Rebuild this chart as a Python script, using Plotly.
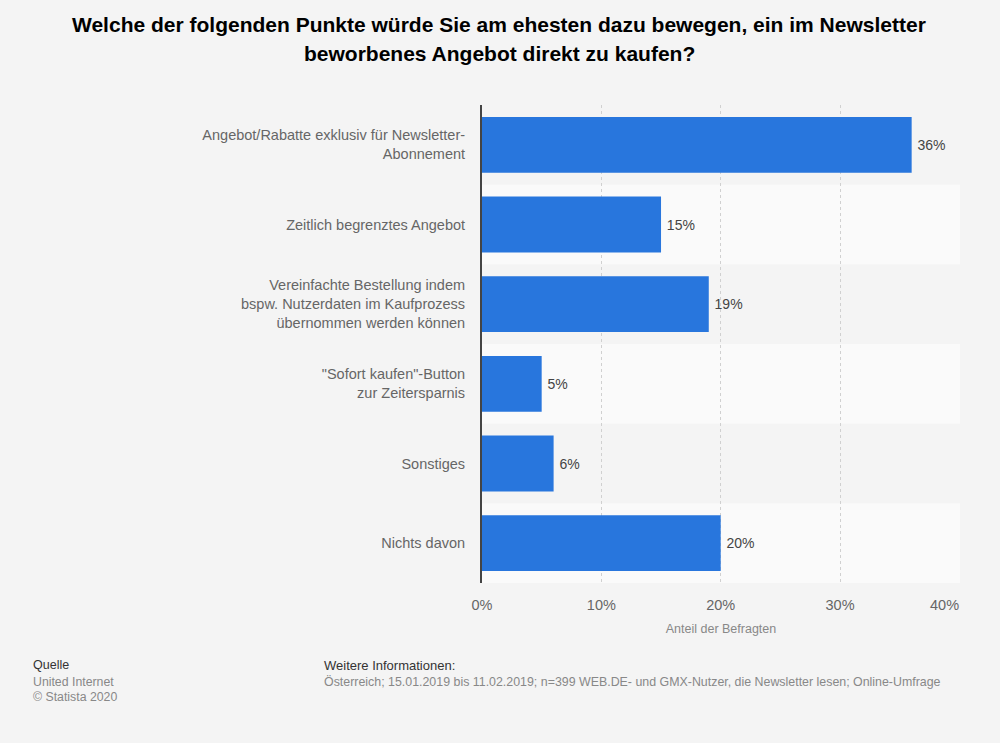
import plotly.graph_objects as go

categories = [
    "Angebot/Rabatte exklusiv für Newsletter-<br>Abonnement",
    "Zeitlich begrenztes Angebot",
    "Vereinfachte Bestellung indem<br>bspw. Nutzerdaten im Kaufprozess<br>übernommen werden können",
    "\"Sofort kaufen\"-Button<br>zur Zeitersparnis",
    "Sonstiges",
    "Nichts davon",
]
values = [36, 15, 19, 5, 6, 20]
value_labels = [f"\u2009{v}%" for v in values]
x_ticks = [0, 10, 20, 30, 40]
x_tick_labels = ["0%", "10%", "20%", "30%", "40%"]

FONT = "Liberation Sans, Arial, sans-serif"
W, H = 1000, 743
L, R, T, B = 482, 40, 105, 160
PW, PH = W - L - R, H - T - B


def px(x):
    return (x - L) / PW


def py(y):
    return (H - B - y) / PH


fig = go.Figure()
fig.add_trace(go.Bar(
    x=values,
    y=categories,
    orientation="h",
    marker=dict(color="#2876dd", line=dict(width=0)),
    width=0.7,
    text=value_labels,
    textposition="outside",
    textfont=dict(family=FONT, size=14, color="#444444"),
    cliponaxis=False,
    hoverinfo="skip",
))

shapes = []
for i in range(len(categories)):
    if i % 2 == 1:
        shapes.append(dict(type="rect", xref="paper", yref="y", x0=0, x1=1,
                           y0=i - 0.5, y1=i + 0.5, fillcolor="#fafafa",
                           line=dict(width=0), layer="below"))

# tick labels: last one is kept inside the plot (right-aligned at its gridline)
shown_ticktext = x_tick_labels[:-1] + [""]

annotations = [
    dict(text="<b>Welche der folgenden Punkte würde Sie am ehesten dazu bewegen, ein im Newsletter</b>",
         x=px(499), y=py(24), xref="paper", yref="paper", showarrow=False,
         xanchor="center", yanchor="middle", font=dict(family=FONT, size=21, color="#000000")),
    dict(text="<b>beworbenes Angebot direkt zu kaufen?</b>",
         x=px(499), y=py(53), xref="paper", yref="paper", showarrow=False,
         xanchor="center", yanchor="middle", font=dict(family=FONT, size=21, color="#000000")),
    dict(text=x_tick_labels[-1], x=x_ticks[-1], y=py(605), xref="x", yref="paper", showarrow=False,
         xanchor="right", yanchor="middle", xshift=2, font=dict(family=FONT, size=14.5, color="#666666")),
    dict(text="Quelle", x=px(31), y=py(665), xref="paper", yref="paper", showarrow=False,
         xanchor="left", yanchor="middle", font=dict(family=FONT, size=12.5, color="#333333")),
    dict(text="United Internet", x=px(31), y=py(682), xref="paper", yref="paper", showarrow=False,
         xanchor="left", yanchor="middle", font=dict(family=FONT, size=12.3, color="#888888")),
    dict(text="© Statista 2020", x=px(31), y=py(697), xref="paper", yref="paper", showarrow=False,
         xanchor="left", yanchor="middle", font=dict(family=FONT, size=12.3, color="#888888")),
    dict(text="Weitere Informationen:", x=px(322), y=py(665), xref="paper", yref="paper", showarrow=False,
         xanchor="left", yanchor="middle", font=dict(family=FONT, size=13, color="#333333")),
    dict(text="Österreich; 15.01.2019 bis 11.02.2019; n=399 WEB.DE- und GMX-Nutzer, die Newsletter lesen; Online-Umfrage",
         x=px(322), y=py(682), xref="paper", yref="paper", showarrow=False,
         xanchor="left", yanchor="middle", font=dict(family=FONT, size=12.4, color="#888888")),
]

fig.update_layout(
    width=W, height=H,
    margin=dict(l=L, r=R, t=T, b=B),
    paper_bgcolor="#f4f4f4",
    plot_bgcolor="#f4f4f4",
    showlegend=False,
    bargap=0.3,
    shapes=shapes,
    annotations=annotations,
    xaxis=dict(
        range=[0, 40.05],
        tickvals=x_ticks,
        ticktext=shown_ticktext,
        tickfont=dict(family=FONT, size=14.5, color="#666666"),
        showgrid=True, gridcolor="#d0d0d0", griddash="dot", gridwidth=1,
        zeroline=False, showline=False, ticks="",
        ticklabelstandoff=11,
        title=dict(text="Anteil der Befragten", font=dict(family=FONT, size=12.5, color="#888888"), standoff=12),
        fixedrange=True,
    ),
    yaxis=dict(
        autorange="reversed",
        tickfont=dict(family=FONT, size=14.5, color="#666666"),
        showgrid=False, zeroline=False,
        showline=True, linecolor="#444444", linewidth=2,
        ticks="", ticklabelstandoff=12,
        fixedrange=True,
    ),
)

fig.write_html(
    "out.html",
    config={"displayModeBar": False},
    post_script="document.body.style.margin='0';document.body.style.background='#f4f4f4';",
)
